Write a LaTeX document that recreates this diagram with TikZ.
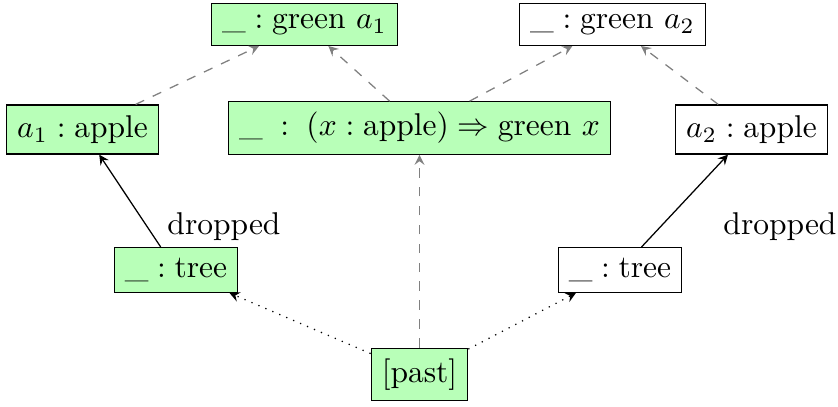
\documentclass[tikz,border=0pt]{standalone}
\usepackage{amsmath}
\begin{document}
\begin{tikzpicture}[x=0.3175pt,y=-0.3175pt,
  box/.style={draw, inner sep=3.333pt},
  gbox/.style={box, fill=green!28},
  wbox/.style={box, fill=white},
  grayarrow/.style={-stealth, gray, dashed},
  dotarrow/.style={-stealth, dotted},
  solidarrow/.style={-stealth}]
\useasboundingbox (0,0) rectangle (838,406);
\node[gbox] (ga1) at (304.5,24.5) {$\_ : \text{green}\ a_1$};
\node[wbox] (ga2) at (612.5,24.5) {$\_ : \text{green}\ a_2$};
\node[gbox] (a1) at (82.5,129.5) {$a_1 : \text{apple}$};
\node[gbox] (mid) at (419.5,128) {$\_\;:\;(x : \text{apple}) \Rightarrow \text{green}\ x$};
\node[wbox] (a2) at (751.5,129.5) {$a_2 : \text{apple}$};
\node[gbox] (t1) at (176,270) {$\_ : \text{tree}$};
\node[wbox] (t2) at (620,270) {$\_ : \text{tree}$};
\node[gbox] (past) at (419.5,374.5) {[past]};
\node (d1) at (224,227) {dropped};
\node (d2) at (780,227) {dropped};
\draw[grayarrow] (a1) -- (ga1);
\draw[grayarrow] (mid) -- (ga1);
\draw[grayarrow] (mid) -- (ga2);
\draw[grayarrow] (a2) -- (ga2);
\draw[grayarrow] (past) -- (mid);
\draw[solidarrow] (t1) -- (a1);
\draw[solidarrow] (t2) -- (a2);
\draw[dotarrow] (past) -- (t1);
\draw[dotarrow] (past) -- (t2);
\end{tikzpicture}
\end{document}
